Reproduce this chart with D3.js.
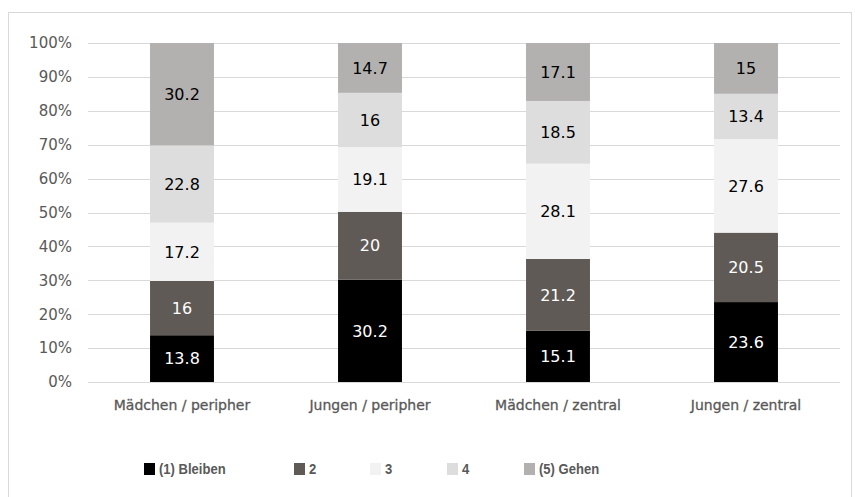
<!DOCTYPE html>
<html>
<head>
<meta charset="utf-8">
<script src="https://cdn.jsdelivr.net/npm/d3@7"></script>
<style>
  html, body { margin: 0; padding: 0; background: #fff; }
  svg { display: block; }
</style>
</head>
<body>
<svg id="chart" width="855" height="497"></svg>
<script>
// Categories (groups along the x axis)
const categories = ["Mädchen / peripher", "Jungen / peripher", "Mädchen / zentral", "Jungen / zentral"];
// Series names (legend) and their fills
const seriesNames = ["(1) Bleiben", "2", "3", "4", "(5) Gehen"];
const seriesColors = ["#000000", "#5f5a56", "#f2f2f2", "#dddddd", "#b2b1b0"];
const labelColors = ["#ffffff", "#ffffff", "#000000", "#000000", "#000000"];
// Values per series, one per category
const bleiben = [13.8, 30.2, 15.1, 23.6];
const s2 = [16, 20, 21.2, 20.5];
const s3 = [17.2, 19.1, 28.1, 27.6];
const s4 = [22.8, 16, 18.5, 13.4];
const gehen = [30.2, 14.7, 17.1, 15];
// Axis tick labels
const tickValues = [0, 0.1, 0.2, 0.3, 0.4, 0.5, 0.6, 0.7, 0.8, 0.9, 1];

const seriesValues = [bleiben, s2, s3, s4, gehen];
const rows = categories.map((c, i) => {
  const r = { cat: c };
  seriesNames.forEach((s, k) => { r[s] = seriesValues[k][i]; });
  return r;
});

const svg = d3.select("#chart");
const font = "'DejaVu Sans', sans-serif";
const legendFont = "'Liberation Sans', Arial, sans-serif";

// Outer frame
svg.append("rect")
  .attr("x", 8.5).attr("y", 12.5).attr("width", 843).attr("height", 490)
  .attr("fill", "none").attr("stroke", "#d9d9d9").attr("stroke-width", 1);

const plot = { left: 88, right: 840, top: 43, bottom: 382 };

const x = d3.scaleBand().domain(categories).range([plot.left, plot.right]).paddingInner(0.66).paddingOuter(0.33);
const y = d3.scaleLinear().domain([0, 1]).range([plot.bottom, plot.top]);

// Gridlines
svg.append("g").selectAll("line").data(tickValues).join("line")
  .attr("x1", plot.left).attr("x2", plot.right)
  .attr("y1", d => Math.round(y(d)) + 0.5).attr("y2", d => Math.round(y(d)) + 0.5)
  .attr("stroke", "#d9d9d9").attr("stroke-width", 1);

// Y axis labels
const yAxis = d3.axisLeft(y).tickValues(tickValues).tickFormat(d3.format(".0%")).tickSize(0).tickPadding(0);
const yg = svg.append("g").attr("transform", `translate(${72},0)`).call(yAxis);
yg.select(".domain").remove();
yg.selectAll("text").attr("font-family", font).attr("font-size", 15).attr("fill", "#595959");

// Stacked, normalised to 100%
const stack = d3.stack().keys(seriesNames).offset(d3.stackOffsetExpand);
const layers = stack(rows);

const g = svg.append("g");
layers.forEach((layer, k) => {
  g.append("g").selectAll("rect").data(layer).join("rect")
    .attr("x", d => x(d.data.cat))
    .attr("width", x.bandwidth())
    .attr("y", d => y(d[1]))
    .attr("height", d => y(d[0]) - y(d[1]))
    .attr("fill", seriesColors[k]);
  g.append("g").selectAll("text").data(layer).join("text")
    .attr("x", d => x(d.data.cat) + x.bandwidth() / 2)
    .attr("y", d => (y(d[0]) + y(d[1])) / 2)
    .attr("dy", "0.36em")
    .attr("text-anchor", "middle")
    .attr("font-family", font).attr("font-size", 16)
    .attr("fill", labelColors[k])
    .text(d => d.data[layer.key]);
});

// Category labels
const xAxis = d3.axisBottom(x).tickSize(0).tickPadding(0);
const xg = svg.append("g").attr("transform", `translate(0,${405})`).call(xAxis);
xg.select(".domain").remove();
xg.selectAll("text").attr("dy", "0.36em").attr("font-family", font).attr("font-size", 14)
  .attr("fill", "#595959").attr("stroke", "#595959").attr("stroke-width", 0.3);

// Legend (condensed bold labels)
const legendX = [144, 294, 370, 447, 524];
const lg = svg.append("g");
seriesNames.forEach((s, k) => {
  lg.append("rect").attr("x", legendX[k]).attr("y", 463).attr("width", 11).attr("height", 12)
    .attr("fill", seriesColors[k]);
  lg.append("text")
    .attr("transform", `translate(${legendX[k] + 15},469) scale(0.87,1)`)
    .attr("dy", "0.36em")
    .attr("font-family", legendFont).attr("font-size", 15).attr("font-weight", "bold")
    .attr("fill", "#595959").text(s);
});
</script>
</body>
</html>
